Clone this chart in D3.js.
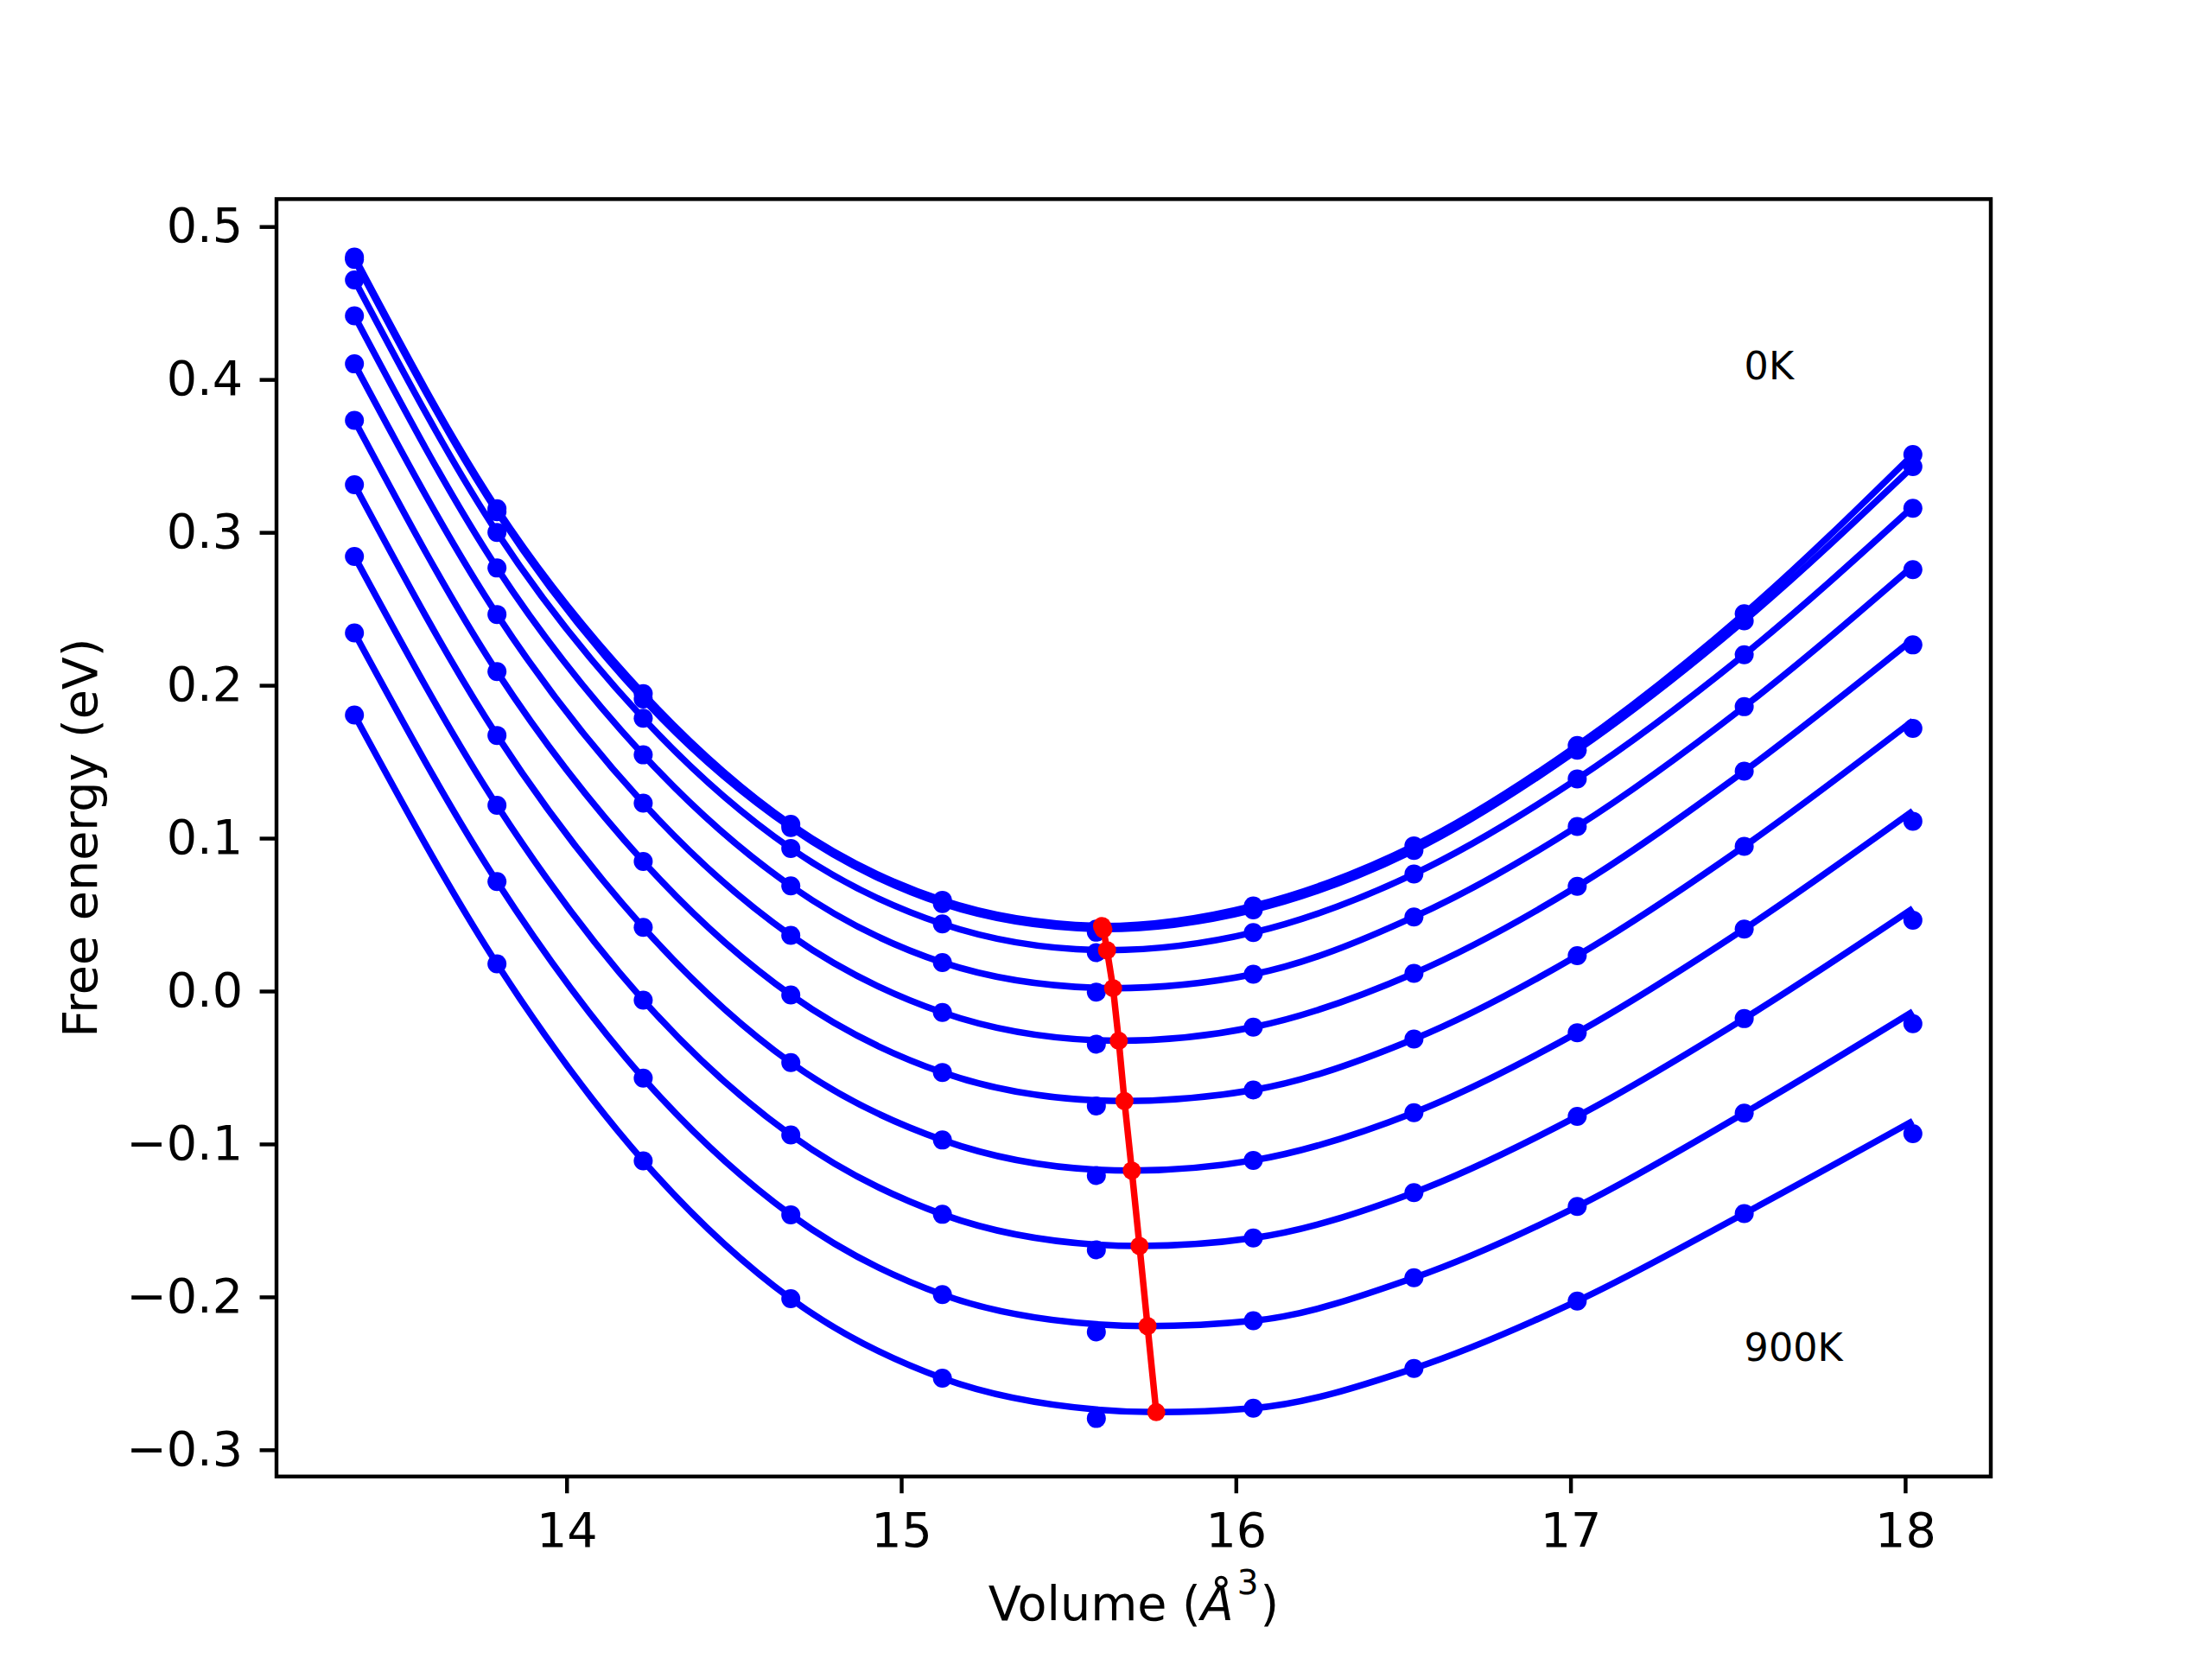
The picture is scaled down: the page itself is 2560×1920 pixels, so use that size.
<!DOCTYPE html>
<html>
<head>
<meta charset="utf-8">
<script src="https://cdn.jsdelivr.net/npm/d3@7"></script>
<style>
  body { margin: 0; background: #fff; }
  svg text { font-family: "DejaVu Sans", sans-serif; }
</style>
</head>
<body>
<svg id="chart"></svg>
<script>
// volumes (Å^3) of the calculated points
const volumes = [13.366, 13.792, 14.229, 14.670, 15.123, 15.583, 16.052, 16.532, 17.020, 17.519, 18.023];

const temperatures = ["0K", "100K", "200K", "300K", "400K", "500K", "600K", "700K", "800K", "900K"];

// free energy of the calculated points (eV), one array per temperature
const e0K   = [0.4800, 0.3155, 0.1945, 0.1090, 0.0594, 0.0405, 0.0557, 0.0950, 0.1606, 0.2468, 0.3509];
const e100K = [0.4785, 0.3135, 0.1910, 0.1070, 0.0572, 0.0385, 0.0531, 0.0920, 0.1575, 0.2422, 0.3430];
const e200K = [0.4651, 0.3000, 0.1784, 0.0933, 0.0439, 0.0251, 0.0383, 0.0766, 0.1388, 0.2200, 0.3157];
const e300K = [0.4416, 0.2767, 0.1545, 0.0688, 0.0187, -0.0007, 0.0110, 0.0485, 0.1077, 0.1860, 0.2756];
const e400K = [0.4102, 0.2463, 0.1229, 0.0364, -0.0140, -0.0347, -0.0236, 0.0116, 0.0685, 0.1438, 0.2264];
const e500K = [0.3733, 0.2089, 0.0848, -0.0025, -0.0532, -0.0751, -0.0647, -0.0314, 0.0232, 0.0947, 0.1718];
const e600K = [0.3311, 0.1672, 0.0417, -0.0468, -0.0974, -0.1206, -0.1107, -0.0795, -0.0272, 0.0406, 0.1111];
const e700K = [0.2843, 0.1215, -0.0059, -0.0941, -0.1460, -0.1692, -0.1615, -0.1318, -0.0819, -0.0180, 0.0464];
const e800K = [0.2342, 0.0716, -0.0569, -0.1463, -0.1985, -0.2229, -0.2156, -0.1875, -0.1409, -0.0798, -0.0213];
const e900K = [0.1806, 0.0178, -0.1110, -0.2012, -0.2532, -0.2795, -0.2728, -0.2468, -0.2027, -0.1455, -0.0932];

// fitted curve read at the same volumes
const fit0K   = [0.4800, 0.3155, 0.1945, 0.1090, 0.0594, 0.0426, 0.0557, 0.0950, 0.1606, 0.2468, 0.3509];
const fit100K = [0.4785, 0.3135, 0.1910, 0.1070, 0.0572, 0.0406, 0.0531, 0.0920, 0.1575, 0.2422, 0.3430];
const fit200K = [0.4651, 0.3000, 0.1784, 0.0933, 0.0439, 0.0268, 0.0383, 0.0766, 0.1388, 0.2200, 0.3167];
const fit300K = [0.4416, 0.2767, 0.1545, 0.0688, 0.0187, 0.0021, 0.0110, 0.0485, 0.1077, 0.1860, 0.2780];
const fit400K = [0.4102, 0.2463, 0.1229, 0.0364, -0.0140, -0.0322, -0.0236, 0.0116, 0.0685, 0.1438, 0.2300];
const fit500K = [0.3733, 0.2089, 0.0848, -0.0025, -0.0532, -0.0715, -0.0647, -0.0314, 0.0232, 0.0947, 0.1768];
const fit600K = [0.3311, 0.1672, 0.0417, -0.0468, -0.0974, -0.1168, -0.1107, -0.0795, -0.0272, 0.0406, 0.1178];
const fit700K = [0.2843, 0.1215, -0.0059, -0.0941, -0.1460, -0.1658, -0.1615, -0.1318, -0.0819, -0.0180, 0.0540];
const fit800K = [0.2342, 0.0716, -0.0569, -0.1463, -0.1985, -0.2179, -0.2156, -0.1875, -0.1409, -0.0798, -0.0134];
const fit900K = [0.1806, 0.0178, -0.1110, -0.2012, -0.2532, -0.2737, -0.2728, -0.2468, -0.2027, -0.1455, -0.0850];

// minimum of each fitted curve (red line)
const minVolumes  = [15.600, 15.604, 15.615, 15.633, 15.650, 15.667, 15.689, 15.712, 15.736, 15.762];
const minEnergies = [0.0425, 0.0405, 0.0267, 0.0019, -0.0325, -0.0719, -0.1174, -0.1667, -0.2191, -0.2754];

// tick values
const xTicks = [14, 15, 16, 17, 18];
const yTicks = [-0.3, -0.2, -0.1, 0.0, 0.1, 0.2, 0.3, 0.4, 0.5];

// temperature labels
const labelTexts = ["0K", "900K"];
const labelVolumes = [17.519, 17.519];
const labelEnergies = [0.4, -0.242];

const series = [e0K, e100K, e200K, e300K, e400K, e500K, e600K, e700K, e800K, e900K];
const fits = [fit0K, fit100K, fit200K, fit300K, fit400K, fit500K, fit600K, fit700K, fit800K, fit900K];

// tamanho da figura (igual ao png original)
const width = 2560;
const height = 1920;
const plotLeft = 320, plotRight = 2304, plotTop = 230.4, plotBottom = 1708.8;

const pt = 400 / 72; // 1 ponto em pixels
const blue = "#0000ff";
const red = "#ff0000";

const svg = d3.select("#chart")
    .attr("width", width)
    .attr("height", height)
    .style("display", "block");

svg.append("rect")
    .attr("width", width)
    .attr("height", height)
    .attr("fill", "#fff");

// margens de 5% como o matplotlib
const [x0, x1] = d3.extent(volumes);
const xPad = (x1 - x0) * 0.05;
const allEnergies = series.flat().concat(minEnergies);
const [y0, y1] = d3.extent(allEnergies);
const yPad = (y1 - y0) * 0.05;

const x = d3.scaleLinear().domain([x0 - xPad, x1 + xPad]).range([plotLeft, plotRight]);
const y = d3.scaleLinear().domain([y0 - yPad, y1 + yPad]).range([plotBottom, plotTop]);

// monotone: a curva não passa abaixo do mínimo
const fitLine = d3.line()
    .x((d) => x(d[0]))
    .y((d) => y(d[1]))
    .curve(d3.curveMonotoneX);

const plot = svg.append("g");

// curvas ajustadas + pontos para cada temperatura
series.forEach((values, i) => {
    const pts = volumes.map((v, j) => [v, fits[i][j]]);
    pts.push([minVolumes[i], minEnergies[i]]);
    pts.sort((a, b) => a[0] - b[0]);

    plot.append("path")
        .datum(pts)
        .attr("class", "fit t" + temperatures[i])
        .attr("fill", "none")
        .attr("stroke", blue)
        .attr("stroke-width", 1.35 * pt)
        .attr("stroke-linejoin", "round")
        .attr("d", fitLine);

    plot.append("g")
        .selectAll("circle")
        .data(volumes.map((v, j) => [v, values[j]]))
        .enter()
        .append("circle")
        .attr("cx", (d) => x(d[0]))
        .attr("cy", (d) => y(d[1]))
        .attr("r", 11)
        .attr("fill", blue);
});

// linha vermelha dos minimos
const minPts = minVolumes.map((v, i) => [v, minEnergies[i]]);

plot.append("path")
    .datum(minPts)
    .attr("fill", "none")
    .attr("stroke", red)
    .attr("stroke-width", 1.35 * pt)
    .attr("stroke-linejoin", "round")
    .attr("d", d3.line().x((d) => x(d[0])).y((d) => y(d[1])));

plot.append("g")
    .selectAll("circle")
    .data(minPts)
    .enter()
    .append("circle")
    .attr("cx", (d) => x(d[0]))
    .attr("cy", (d) => y(d[1]))
    .attr("r", 10.5)
    .attr("fill", red);

// rotulos de temperatura
svg.append("g")
    .selectAll("text")
    .data(labelTexts)
    .enter()
    .append("text")
    .attr("x", (d, i) => x(labelVolumes[i]))
    .attr("y", (d, i) => y(labelEnergies[i]))
    .attr("font-size", 8 * pt)
    .attr("fill", "#000")
    .text((d) => d);

// eixos
const tickLen = 3.5 * pt;
const tickPad = 3.5 * pt;

const xAxis = svg.append("g")
    .attr("transform", `translate(0,${plotBottom})`)
    .call(d3.axisBottom(x)
        .tickValues(xTicks)
        .tickFormat(d3.format("d"))
        .tickSize(tickLen)
        .tickSizeOuter(0)
        .tickPadding(tickPad));

const yAxis = svg.append("g")
    .attr("transform", `translate(${plotLeft},0)`)
    .call(d3.axisLeft(y)
        .tickValues(yTicks)
        .tickFormat(d3.format(".1f"))
        .tickSize(tickLen)
        .tickSizeOuter(0)
        .tickPadding(tickPad));

[xAxis, yAxis].forEach((ax) => {
    ax.select(".domain").remove();
    ax.selectAll(".tick line").attr("stroke", "#000").attr("stroke-width", 0.8 * pt);
    ax.selectAll(".tick text")
        .attr("fill", "#000")
        .attr("font-size", 10 * pt)
        .attr("font-family", "DejaVu Sans, sans-serif");
});
xAxis.selectAll(".tick text").attr("dy", "0.76em");

// moldura
svg.append("rect")
    .attr("x", plotLeft)
    .attr("y", plotTop)
    .attr("width", plotRight - plotLeft)
    .attr("height", plotBottom - plotTop)
    .attr("fill", "none")
    .attr("stroke", "#000")
    .attr("stroke-width", 0.8 * pt);

// titulos dos eixos
const xLabel = svg.append("text")
    .attr("x", (plotLeft + plotRight) / 2)
    .attr("y", 1875)
    .attr("text-anchor", "middle")
    .attr("font-size", 10 * pt)
    .attr("fill", "#000");
xLabel.append("tspan").text("Volume (");
xLabel.append("tspan").attr("font-style", "italic").text("Å");
xLabel.append("tspan").attr("font-size", 7 * pt).attr("dy", -30).attr("dx", 4).text("3");
xLabel.append("tspan").attr("dy", 30).attr("dx", 2).text(")");

svg.append("text")
    .attr("transform", `translate(112,${(plotTop + plotBottom) / 2}) rotate(-90)`)
    .attr("text-anchor", "middle")
    .attr("font-size", 10 * pt)
    .attr("fill", "#000")
    .text("Free energy (eV)");
</script>
</body>
</html>
